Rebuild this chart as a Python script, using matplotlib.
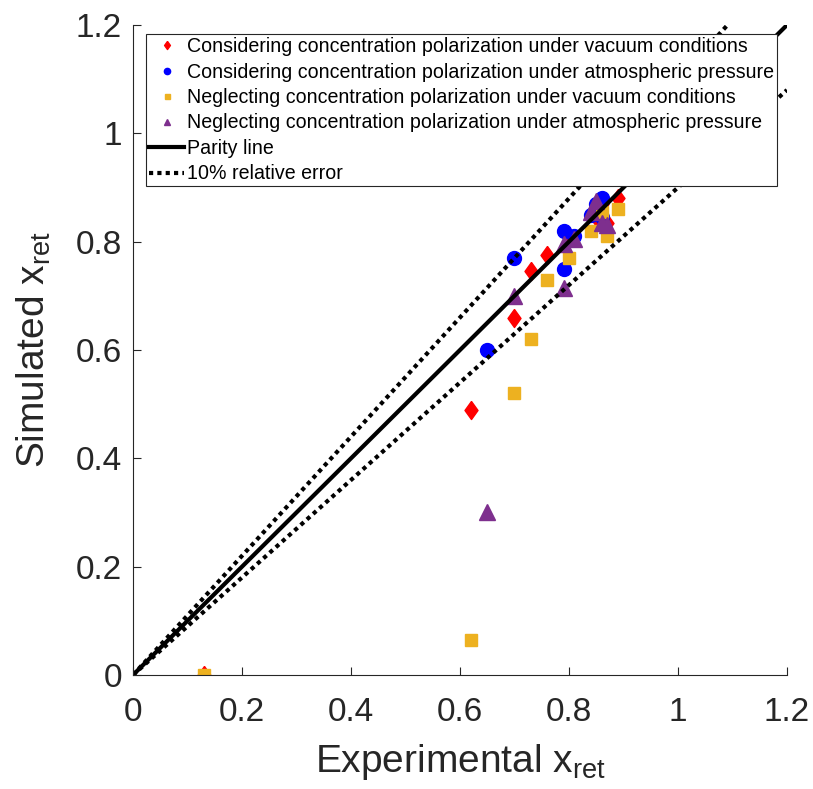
import numpy as np
import matplotlib
matplotlib.use("Agg")
import matplotlib.pyplot as plt

plt.rcParams['font.family'] = ['Liberation Sans', 'DejaVu Sans']
plt.rcParams['mathtext.fontset'] = 'custom'
plt.rcParams['mathtext.rm'] = 'Liberation Sans'

# experimental vs simulated x_ret
cv_x = [0.13, 0.62, 0.70, 0.73, 0.76, 0.80, 0.85, 0.87, 0.89, 0.86]
cv_y = [0.00, 0.49, 0.66, 0.745, 0.775, 0.81, 0.845, 0.835, 0.88, 0.87]

ca_x = [0.65, 0.70, 0.79, 0.79, 0.81, 0.84, 0.85, 0.86, 0.86]
ca_y = [0.60, 0.77, 0.75, 0.82, 0.81, 0.85, 0.87, 0.88, 0.845]

nv_x = [0.13, 0.62, 0.70, 0.73, 0.76, 0.80, 0.84, 0.87, 0.86, 0.89]
nv_y = [0.00, 0.065, 0.52, 0.62, 0.73, 0.77, 0.82, 0.81, 0.855, 0.86]

na_x = [0.65, 0.70, 0.79, 0.79, 0.81, 0.84, 0.85, 0.86, 0.87]
na_y = [0.30, 0.70, 0.715, 0.795, 0.805, 0.855, 0.875, 0.835, 0.83]

line_x = [0, 1.2]
ticks = [0, 0.2, 0.4, 0.6, 0.8, 1, 1.2]
tick_labels = ['0', '0.2', '0.4', '0.6', '0.8', '1', '1.2']

# matlab style diamond, a bit taller than wide
diamond = [(0, 1), (0.72, 0), (0, -1), (-0.72, 0), (0, 1)]

fig = plt.figure(figsize=(8.13, 7.89), dpi=100)
ax = fig.add_axes([0.1636, 0.1445, 0.8044, 0.8238])

ax.plot(cv_x, cv_y, marker=diamond, color='#FF0000', markersize=13, lw=0,
        label='Considering concentration polarization under vacuum conditions')
ax.plot(ca_x, ca_y, 'o', color='#0000FF', markersize=10, lw=0,
        label='Considering concentration polarization under atmospheric pressure')
ax.plot(nv_x, nv_y, 's', color='#EDB120', markersize=8, lw=0,
        label='Neglecting concentration polarization under vacuum conditions')
ax.plot(na_x, na_y, '^', color='#7E2F8E', markersize=11, lw=0,
        label='Neglecting concentration polarization under atmospheric pressure')

ax.plot(line_x, line_x, '-', color='k', lw=3, label='Parity line')
ax.plot(line_x, [1.1 * v for v in line_x], color='k', lw=3,
        linestyle=(0, (1, 1)), label='10% relative error')
ax.plot(line_x, [0.9 * v for v in line_x], color='k', lw=3,
        linestyle=(0, (1, 1)))

ax.set_xlim(0, 1.2)
ax.set_ylim(0, 1.2)
ax.set_xticks(ticks)
ax.set_yticks(ticks)
ax.set_xticklabels(tick_labels)
ax.set_yticklabels(tick_labels)
ax.tick_params(direction='in', length=6, width=0.8, labelsize=24,
               colors='#262626')
ax.tick_params(axis='x', pad=16)
ax.tick_params(axis='y', pad=8)
for s in ['top', 'right']:
    ax.spines[s].set_visible(False)
for s in ['left', 'bottom']:
    ax.spines[s].set_color('#262626')
    ax.spines[s].set_linewidth(0.8)

ax.set_xlabel('Experimental x$_{\\mathregular{ret}}$', fontsize=28,
              color='#262626', labelpad=10)
ax.set_ylabel('Simulated x$_{\\mathregular{ret}}$', fontsize=28,
              color='#262626', labelpad=16)

leg = ax.legend(loc='upper left', bbox_to_anchor=(0.02, 0.986), borderaxespad=0,
                fontsize=14.1, markerscale=0.45, handlelength=1.8,
                handletextpad=0.15, borderpad=0.15, labelspacing=0.33,
                fancybox=False, framealpha=1)
leg.get_frame().set_edgecolor('#262626')
leg.get_frame().set_linewidth(0.8)

fig.savefig('out.png', dpi=100)
